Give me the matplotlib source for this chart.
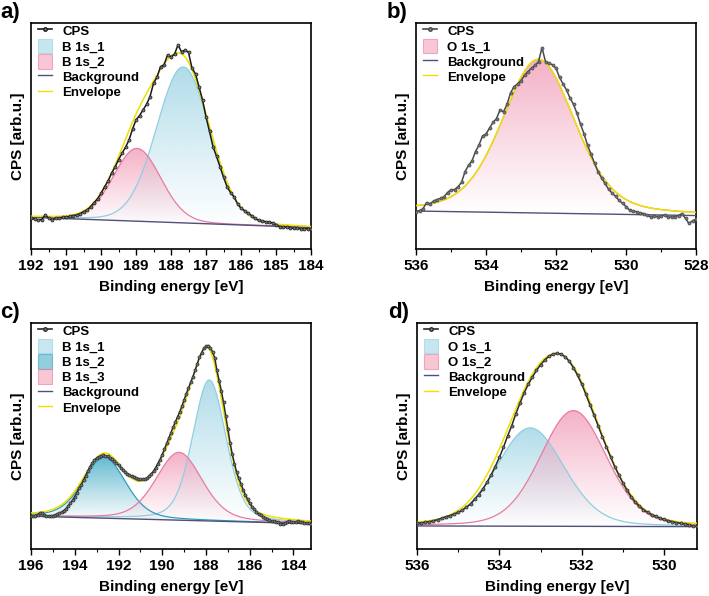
import numpy as np
import matplotlib
matplotlib.use("Agg")
import matplotlib.pyplot as plt
from matplotlib.colors import to_rgb
from matplotlib.lines import Line2D
from matplotlib.patches import Patch

plt.rcParams['font.family'] = ['Liberation Sans', 'DejaVu Sans']
plt.rcParams['font.weight'] = 'bold'

# ---------------- data ----------------
# Panel a: B 1s
a_start, a_step = 192.0, 0.1
a_cps = [136, 132, 128, 130, 150, 138, 128, 136, 138, 140, 142,
         144, 148, 150, 156, 165, 172, 187, 205, 222, 246,
         275, 300, 335, 362, 395, 423, 450, 482, 530, 571,
         590, 615, 640, 674, 733, 760, 807, 815, 858, 850,
         862, 903, 873, 880, 870, 800, 775, 718, 660, 585,
         520, 453, 410, 364, 318, 276, 250, 231, 200, 180,
         170, 158, 148, 135, 128, 124, 121, 120, 115, 108,
         99, 98, 96, 94, 91, 92, 90, 89, 90, 87]
a_bg = [140, 95]
a_names = ['B 1s_1', 'B 1s_2']
a_centers = [187.65, 188.97]
a_heights = [690, 322]
a_fwhm = [1.8, 1.6]
a_mix = 0.1

# Panel b: O 1s
b_start, b_step = 536.0, 0.1
b_cps = [165, 170, 178, 205, 200, 212, 219, 224, 231, 250, 262,
         263, 275, 295, 342, 370, 390, 431, 460, 500, 509,
         535, 560, 577, 615, 607, 640, 690, 718, 730, 745,
         768, 785, 800, 812, 829, 891, 829, 822, 815, 800,
         760, 730, 704, 668, 640, 600, 552, 510, 460, 420,
         380, 342, 315, 290, 265, 248, 233, 215, 202, 188,
         172, 168, 165, 160, 157, 150, 143, 145, 143, 146,
         150, 140, 142, 143, 148, 157, 135, 113, 125, 131]
b_bg = [168, 148]
b_names = ['O 1s_1']
b_centers = [532.5]
b_heights = [680]
b_fwhm = [2.45]
b_mix = 0.3

# Panel c: B 1s
c_start, c_step = 196.0, 0.1
c_cps = [146, 144, 148, 152, 158, 161, 152, 146, 145, 146,
         148, 150, 153, 158, 163, 170, 178, 190, 203, 215,
         232, 248, 268, 285, 305, 325, 345, 365, 380, 392,
         402, 408, 412, 414, 413, 410, 404, 398, 390, 380,
         370, 360, 350, 340, 333, 326, 321, 318, 313, 309,
         308, 308, 310, 314, 322, 332, 344, 360, 378, 396,
         418, 442, 467, 490, 515, 540, 562, 585, 607, 632,
         660, 688, 712, 738, 762, 790, 818, 848, 868, 888,
         897, 900, 890, 872, 845, 790, 745, 700, 650, 590,
         530, 470, 420, 378, 340, 312, 288, 262, 240, 220,
         202, 188, 176, 165, 155, 149, 142, 136, 131, 128,
         125, 123, 121, 118, 112, 110, 114, 119, 124, 120,
         118, 121, 122, 121, 118, 116, 115, 113, 112]
c_bg = [145, 112]
c_names = ['B 1s_1', 'B 1s_2', 'B 1s_3']
c_centers = [187.85, 192.65, 189.23]
c_heights = [624, 270, 300]
c_fwhm = [1.8, 2.3, 2.5]
c_mix = 0.3

# Panel d: O 1s
d_start, d_step = 536.0, 0.1
d_cps = [114, 116, 118, 121, 125, 130, 136, 143, 148, 155, 162,
         172, 185, 199, 220, 240, 265, 295, 328, 365, 405,
         450, 500, 545, 598, 645, 690, 728, 760, 790, 815,
         836, 852, 862, 866, 862, 850, 830, 802, 768, 730,
         685, 638, 592, 545, 497, 452, 408, 365, 328, 292,
         260, 232, 208, 190, 174, 162, 152, 144, 137, 131,
         126, 121, 117, 114, 111, 108, 102, 100]
d_bg = [102, 99]
d_names = ['O 1s_1', 'O 1s_2']
d_centers = [533.25, 532.2]
d_heights = [435, 512]
d_fwhm = [1.95, 1.9]
d_mix = 0.2

# ---------------- styling ----------------
LIGHTBLUE = ('#8fcfe0', '#a3d6e6')
TEAL = ('#2e9dbd', '#4aaec9')
PINK = ('#e87ca0', '#f2a3bc')
BG_COL = '#50507a'
ENV_COL = '#eee000'


def pvoigt(x, c, h, w, m):
    d2 = (x - c) ** 2 / w ** 2
    return h * ((1 - m) * np.exp(-4 * np.log(2) * d2) + m / (1 + 4 * d2))


def gradient_fill(ax, x, base, top, color, amax=0.85):
    poly = ax.fill_between(x, base, top, facecolor='none', edgecolor='none')
    ymin, ymax = base.min(), top.max()
    n = 256
    rgba = np.zeros((n, 1, 4))
    rgba[..., :3] = to_rgb(color)
    rgba[:, 0, 3] = amax * np.linspace(0, 1, n) ** 1.1
    im = ax.imshow(rgba, extent=[x.min(), x.max(), ymin, ymax], origin='lower',
                   aspect='auto', zorder=1, interpolation='bilinear')
    im.set_clip_path(poly.get_paths()[0], transform=ax.transData)


def panel(ax, start, step, cps, bg, names, centers, heights, fwhm, mix,
          colors, xlim, major, minor, cps_col):
    cps = np.array(cps, dtype=float)
    x = start - step * np.arange(len(cps))
    xf = np.linspace(x[0], x[-1], 600)
    bgf = bg[0] + (bg[1] - bg[0]) * (xf - xf[0]) / (xf[-1] - xf[0])
    env = bgf.copy()
    handles = [Line2D([], [], color=cps_col, marker='o', ms=2.5, lw=1.2,
                      mfc='#888888', mec=cps_col)]
    comps = []
    for nm, c, h, w, col in zip(names, centers, heights, fwhm, colors):
        comp = pvoigt(xf, c, h, w, mix)
        env += comp
        comps.append((comp, col, nm))
    for comp, col, nm in comps:
        gradient_fill(ax, xf, bgf, bgf + comp, col[1])
        ax.plot(xf, bgf + comp, color=col[0], lw=0.9, zorder=2)
        handles.append(Patch(facecolor=col[1], edgecolor=col[0], alpha=0.6,
                             lw=0.8, label=nm))
    ax.plot(xf, bgf, color=BG_COL, lw=1.0, zorder=3)
    ax.plot(xf, env, color=ENV_COL, lw=1.1, zorder=4)
    ax.plot(x, cps, color=cps_col, lw=1.1, marker='o', ms=2.2,
            mfc='#777777', mec=cps_col, mew=0.5, zorder=5)
    handles.append(Line2D([], [], color=BG_COL, lw=1.0))
    handles.append(Line2D([], [], color=ENV_COL, lw=1.0))
    labels = ['CPS'] + list(names) + ['Background', 'Envelope']
    ax.legend(handles, labels, loc='upper left', bbox_to_anchor=(0.022, 1.0),
              frameon=False, handlelength=1.1, handleheight=1.3,
              labelspacing=0.05, borderaxespad=0.0, borderpad=0.05,
              handletextpad=0.75, prop={'weight': 'bold', 'size': 9.5})
    ax.set_xlim(*xlim)
    ax.set_ylim(0, 1000)
    ax.set_xticks(np.arange(min(xlim[0], xlim[1]) // major * major,
                            max(xlim) + 0.01, major))
    ax.set_xticks(np.arange(np.ceil(min(xlim) / minor) * minor,
                            max(xlim) + 0.01, minor), minor=True)
    ax.set_xticklabels([f'{int(t)}' for t in ax.get_xticks()])
    ax.set_xlim(*xlim)
    ax.set_yticks([])
    ax.tick_params(axis='x', which='major', direction='out', length=4,
                   width=1.0, labelsize=11)
    ax.tick_params(axis='x', which='minor', direction='out', length=2.5,
                   width=0.8)
    for lab in ax.get_xticklabels():
        lab.set_fontweight('bold')
    for s in ax.spines.values():
        s.set_linewidth(1.2)
    ax.set_xlabel('Binding energy [eV]', fontsize=11, fontweight='bold',
                  labelpad=5)
    ax.set_ylabel('CPS [arb.u.]', fontsize=11, fontweight='bold', labelpad=4)


fig = plt.figure(figsize=(7.09, 5.96), dpi=100)
W, H = 709, 596
def axes_px(l, t, r, b):
    return fig.add_axes([l / W, 1 - b / H, (r - l) / W, (b - t) / H])

ax_a = axes_px(31, 23, 311, 249)
ax_b = axes_px(416, 23, 696, 249)
ax_c = axes_px(31, 323, 311, 549)
ax_d = axes_px(417, 323, 697, 549)

panel(ax_a, a_start, a_step, a_cps, a_bg, a_names, a_centers, a_heights,
      a_fwhm, a_mix, [LIGHTBLUE, PINK], (192, 184), 1, 0.5, '#1a1a1a')
panel(ax_b, b_start, b_step, b_cps, b_bg, b_names, b_centers, b_heights,
      b_fwhm, b_mix, [PINK], (536, 528), 2, 1, '#4a4a4a')
panel(ax_c, c_start, c_step, c_cps, c_bg, c_names, c_centers, c_heights,
      c_fwhm, c_mix, [LIGHTBLUE, TEAL, PINK], (196, 183.2), 2, 1, '#2a2a2a')
panel(ax_d, d_start, d_step, d_cps, d_bg, d_names, d_centers, d_heights,
      d_fwhm, d_mix, [LIGHTBLUE, PINK], (536, 529.2), 2, 1, '#2a2a2a')

for txt, xp, yp in [('a)', 0, 2), ('b)', 387, 2), ('c)', 0, 302), ('d)', 388, 302)]:
    fig.text(xp / W, 1 - yp / H, txt, fontsize=16, fontweight='bold',
             va='top', ha='left')

fig.savefig('out.png', dpi=100, facecolor='white')
